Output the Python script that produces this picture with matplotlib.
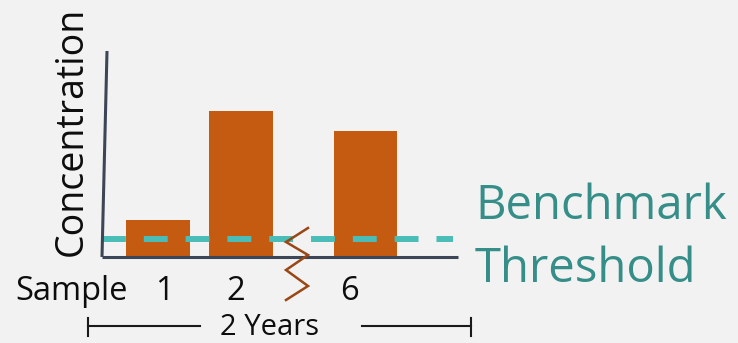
import matplotlib
matplotlib.use("Agg")
import matplotlib.pyplot as plt

# Sample data
samples = ["1", "2", "6"]
concentration = [1.8, 7.1, 6.1]
benchmark = 0.87
period_label = "2 Years"

BG = "#f2f2f2"
BAR = "#c55a11"
DASH = "#4bbdb8"
TEAL_TEXT = "#358e88"
AXIS = "#3d4656"
BREAK = "#9a4716"
FONT = "Open Sans"

W, H = 738, 343
fig = plt.figure(figsize=(W / 100, H / 100), dpi=100, facecolor=BG)

# overlay in pixel coordinates for annotations
ov = fig.add_axes([0, 0, 1, 1], zorder=3)
ov.set_xlim(0, W)
ov.set_ylim(H, 0)
ov.axis("off")
ov.patch.set_alpha(0)

# plotting area
left, right, bottom, top = 102, 458, 257, 51
ax = fig.add_axes([left / W, (H - bottom) / H, (right - left) / W, (bottom - top) / H], zorder=2)
ax.patch.set_alpha(0)
ax.axis("off")

# slot positions: samples 1 and 2 adjacent, then a gap for the break before 6
positions = [1.0, 2.0, 3.5]
ax.set_xlim(0.325, 4.614)
ax.set_ylim(0, 10)
ax.bar(positions, concentration, width=0.77, color=BAR, zorder=1)
ax.axhline(benchmark, xmin=0, xmax=(453 - left) / (right - left), color=DASH,
           lw=4.3, dashes=(4, 3), dash_capstyle="butt", zorder=2)

# axes lines
ov.plot([107, 102], [51, 257], color=AXIS, lw=2.2, solid_capstyle="butt")
ov.plot([102, 458], [257, 257], color=AXIS, lw=2.2, solid_capstyle="butt")

# axis break zigzag
zx = [308, 286, 308, 286, 308, 286]
zy = [228, 242, 255, 270, 286, 300]
ov.plot(zx, zy, color=BREAK, lw=1.8, solid_joinstyle="miter")

# labels
ov.text(82, 131, "Concentration", rotation=90, rotation_mode="anchor",
        ha="center", va="baseline", fontsize=27, family=FONT, color="#0d0d0d")
ov.text(15, 300, "Sample", ha="left", va="baseline", fontsize=23.5, family=FONT, color="#0d0d0d")
for s, xc in zip(samples, [164, 236, 350]):
    ov.text(xc, 300, s, ha="center", va="baseline", fontsize=23.5, family=FONT, color="#0d0d0d")

ov.text(475, 219, "Benchmark", ha="left", va="baseline", fontsize=34, family=FONT, color=TEAL_TEXT)
ov.text(475, 282, "Threshold", ha="left", va="baseline", fontsize=34, family=FONT, color=TEAL_TEXT)

# period bracket
ov.text(270, 335, period_label, ha="center", va="baseline", fontsize=21, family=FONT, color="#0d0d0d")
ov.plot([88, 200], [326, 326], color="#1a1a1a", lw=1.5)
ov.plot([362, 471], [326, 326], color="#1a1a1a", lw=1.5)
ov.plot([88, 88], [318, 336], color="#1a1a1a", lw=1.5)
ov.plot([471, 471], [318, 336], color="#1a1a1a", lw=1.5)

fig.savefig("out.png", dpi=100, facecolor=BG)
